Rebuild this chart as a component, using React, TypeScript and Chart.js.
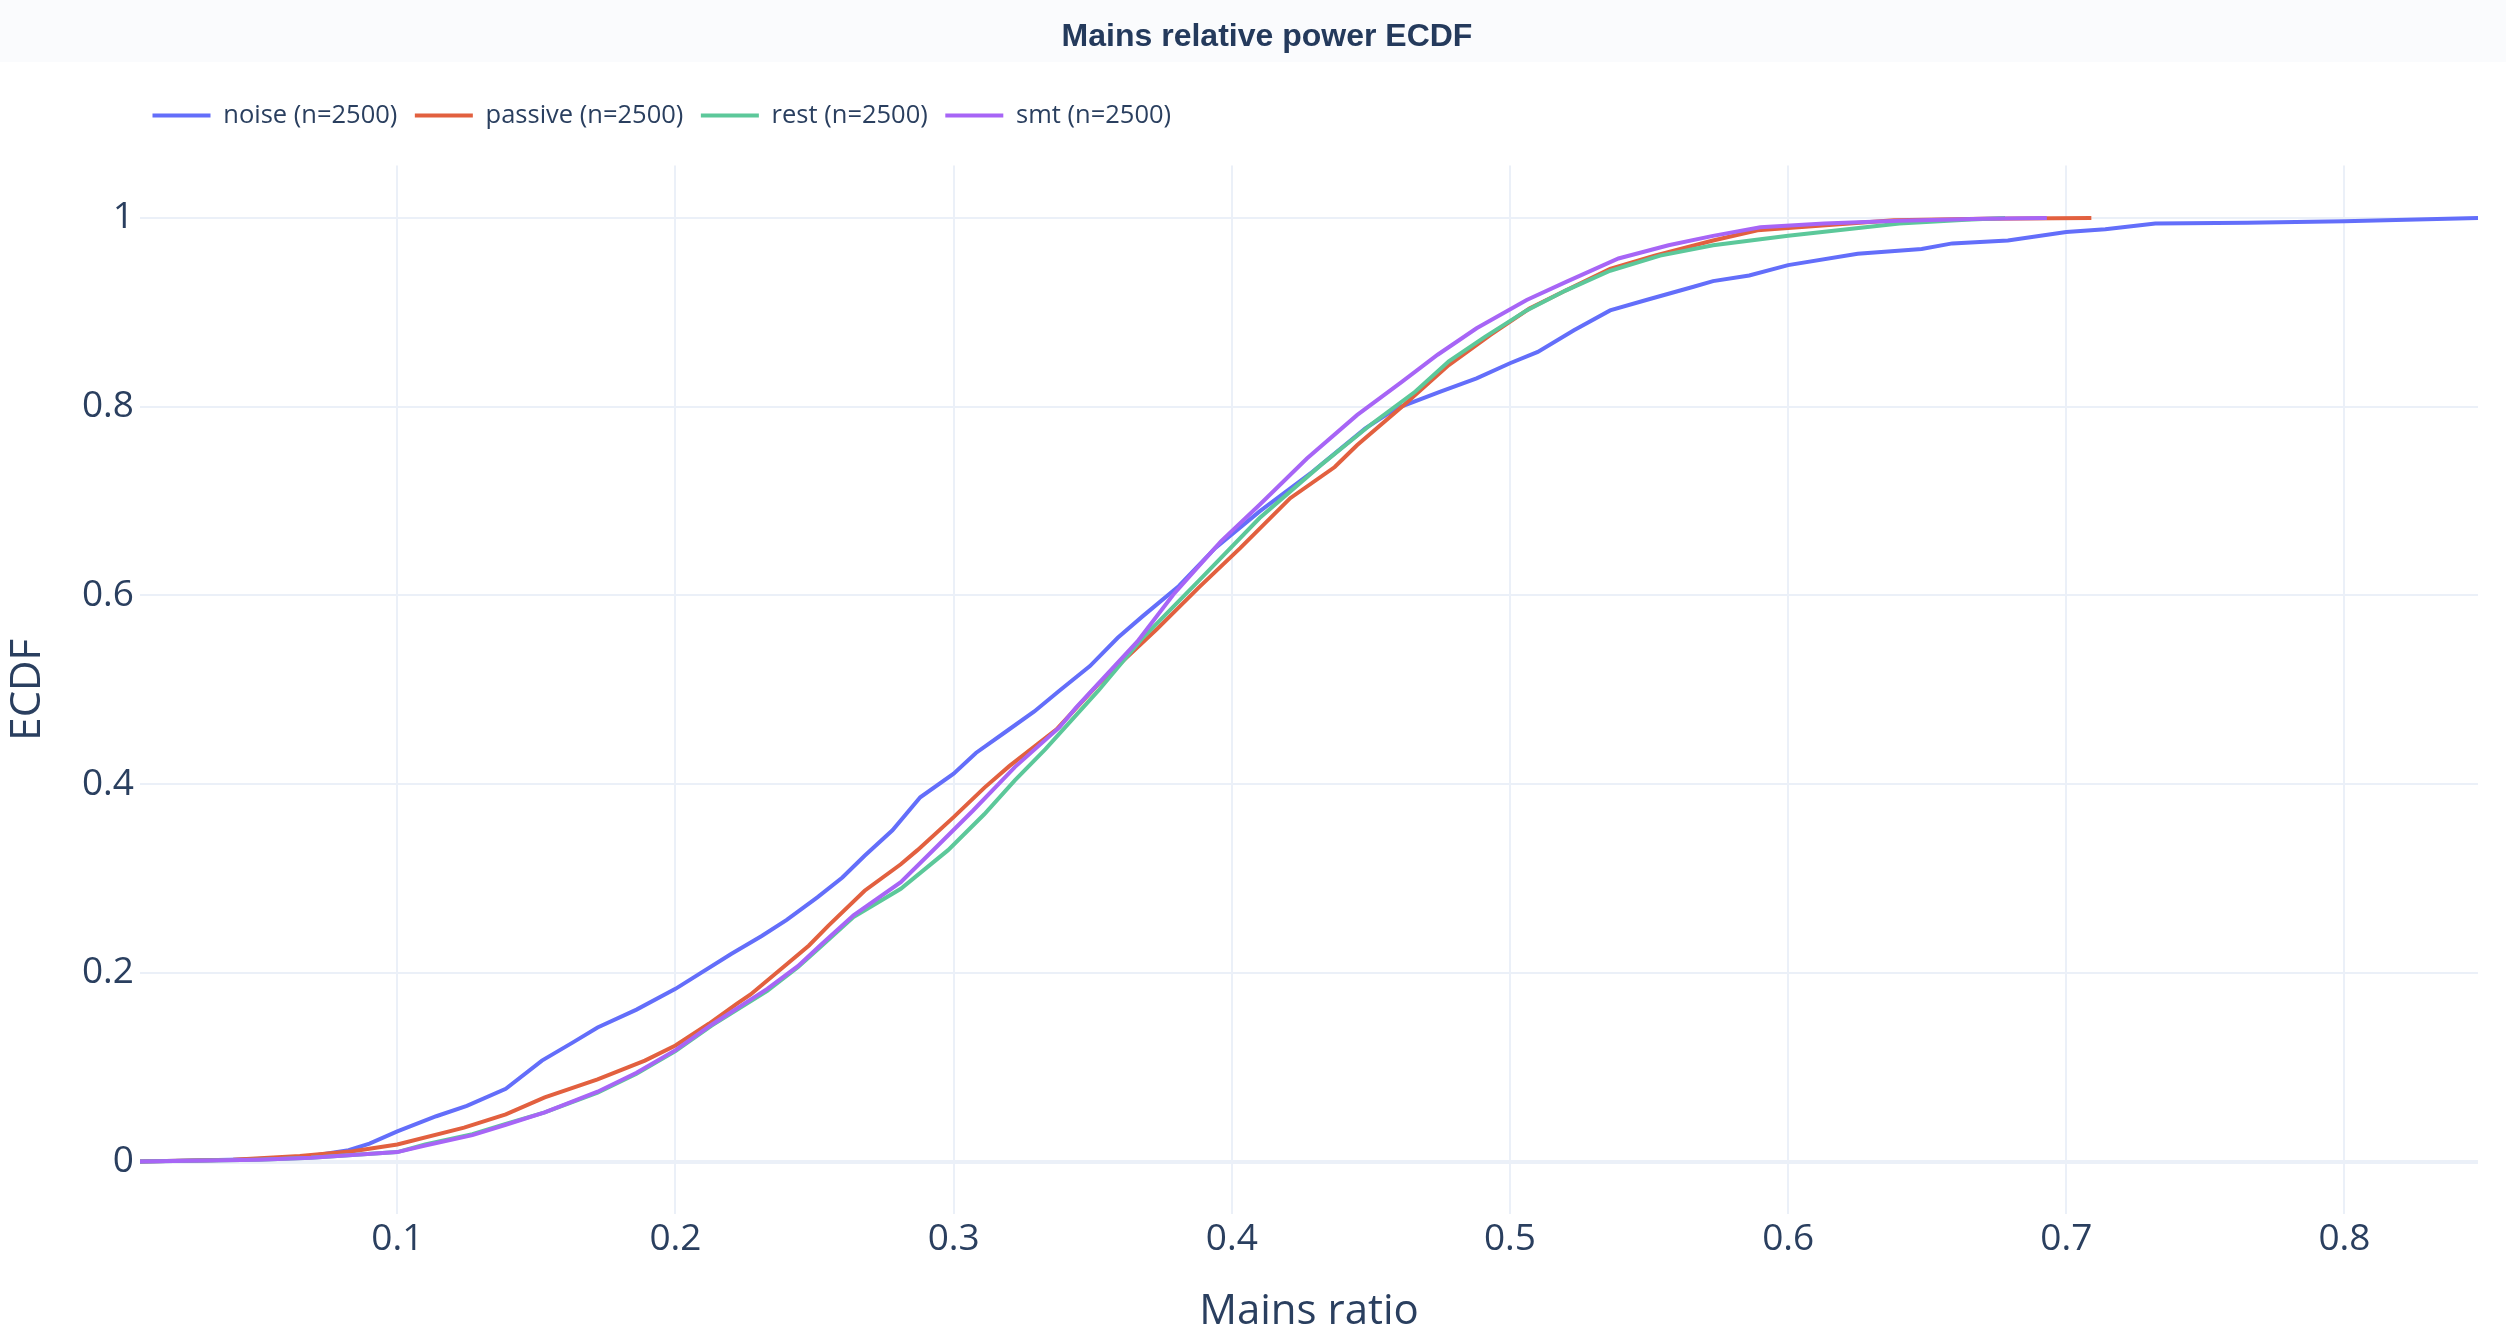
import React, { useEffect, useRef } from "react";
import { Chart, registerables } from "chart.js";

Chart.register(...registerables);

const TITLE = "Mains relative power ECDF";
const X_TITLE = "Mains ratio";
const Y_TITLE = "ECDF";
const SERIES_NAMES = ["noise (n=2500)", "passive (n=2500)", "rest (n=2500)", "smt (n=2500)"];
const SERIES_COLORS = ["#636efa", "#e2603f", "#5cc89a", "#a765f6"];

const X_MIN = 0.0075;
const X_MAX = 0.848;
const Y_MIN = -0.0556;
const Y_MAX = 1.0556;

const NOISE_X = [0.0075, 0.04, 0.065, 0.0825, 0.09, 0.1, 0.114, 0.125, 0.139, 0.152, 0.163, 0.172, 0.186, 0.2, 0.22, 0.231, 0.24, 0.251, 0.26, 0.268, 0.278, 0.288, 0.3, 0.308, 0.319, 0.329, 0.338, 0.349, 0.359, 0.368, 0.381, 0.394, 0.41, 0.429, 0.448, 0.459, 0.475, 0.488, 0.5, 0.51, 0.523, 0.536, 0.549, 0.566, 0.573, 0.586, 0.6, 0.625, 0.648, 0.659, 0.679, 0.7, 0.714, 0.732, 0.765, 0.8, 0.848];
const NOISE_Y = [0, 0.002, 0.004, 0.012, 0.019, 0.032, 0.048, 0.059, 0.077, 0.107, 0.126, 0.142, 0.161, 0.183, 0.22, 0.239, 0.256, 0.28, 0.301, 0.324, 0.351, 0.386, 0.411, 0.433, 0.456, 0.477, 0.499, 0.525, 0.555, 0.578, 0.61, 0.65, 0.689, 0.731, 0.777, 0.798, 0.816, 0.83, 0.846, 0.858, 0.881, 0.902, 0.913, 0.927, 0.933, 0.939, 0.95, 0.962, 0.967, 0.973, 0.976, 0.985, 0.988, 0.994, 0.995, 0.9965, 1];

const PASSIVE_X = [0.0075, 0.041, 0.065, 0.084, 0.1, 0.124, 0.139, 0.153, 0.172, 0.189, 0.2, 0.212, 0.222, 0.227, 0.24, 0.248, 0.255, 0.268, 0.281, 0.287, 0.3, 0.311, 0.32, 0.337, 0.352, 0.373, 0.388, 0.403, 0.421, 0.437, 0.445, 0.462, 0.478, 0.493, 0.507, 0.52, 0.536, 0.552, 0.573, 0.589, 0.638, 0.67, 0.709];
const PASSIVE_Y = [0, 0.002, 0.006, 0.011, 0.018, 0.036, 0.05, 0.068, 0.087, 0.107, 0.123, 0.146, 0.167, 0.177, 0.209, 0.229, 0.25, 0.287, 0.315, 0.33, 0.365, 0.396, 0.419, 0.458, 0.506, 0.564, 0.608, 0.65, 0.703, 0.736, 0.759, 0.802, 0.844, 0.876, 0.904, 0.923, 0.946, 0.96, 0.976, 0.987, 0.9975, 0.999, 1];

const REST_X = [0.0075, 0.05, 0.069, 0.1, 0.11, 0.127, 0.139, 0.153, 0.172, 0.186, 0.2, 0.213, 0.233, 0.244, 0.252, 0.264, 0.281, 0.298, 0.311, 0.322, 0.333, 0.352, 0.368, 0.388, 0.41, 0.432, 0.45, 0.466, 0.478, 0.491, 0.506, 0.52, 0.536, 0.554, 0.573, 0.6, 0.64, 0.664, 0.678];
const REST_Y = [0, 0.002, 0.004, 0.01, 0.018, 0.029, 0.04, 0.052, 0.073, 0.093, 0.117, 0.144, 0.181, 0.206, 0.227, 0.259, 0.289, 0.33, 0.368, 0.404, 0.437, 0.499, 0.555, 0.615, 0.682, 0.738, 0.781, 0.816, 0.848, 0.874, 0.902, 0.923, 0.944, 0.96, 0.971, 0.981, 0.994, 0.998, 1];

const SMT_X = [0.0075, 0.05, 0.069, 0.1, 0.11, 0.127, 0.139, 0.153, 0.172, 0.186, 0.2, 0.213, 0.233, 0.244, 0.252, 0.264, 0.281, 0.292, 0.307, 0.322, 0.338, 0.344, 0.366, 0.379, 0.396, 0.41, 0.427, 0.445, 0.461, 0.474, 0.488, 0.506, 0.52, 0.539, 0.557, 0.573, 0.59, 0.613, 0.64, 0.67, 0.693];
const SMT_Y = [0, 0.002, 0.004, 0.01, 0.017, 0.028, 0.039, 0.052, 0.074, 0.094, 0.118, 0.145, 0.183, 0.207, 0.229, 0.261, 0.296, 0.328, 0.372, 0.418, 0.46, 0.481, 0.551, 0.601, 0.657, 0.696, 0.745, 0.791, 0.826, 0.855, 0.883, 0.913, 0.932, 0.957, 0.971, 0.981, 0.99, 0.994, 0.997, 0.999, 1];

const SERIES_X = [NOISE_X, PASSIVE_X, REST_X, SMT_X];
const SERIES_Y = [NOISE_Y, PASSIVE_Y, REST_Y, SMT_Y];

const FONT = "'Open Sans', 'Noto Sans', sans-serif";
const TITLE_FONT = "'Liberation Sans', Arial, sans-serif";
const TEXT = "#2a3f5f";
const GRID = "#ebf0f8";

const fmt = (v: number) => String(parseFloat(Number(v).toFixed(3)));

export default function App() {
  const ref = useRef<HTMLCanvasElement | null>(null);

  useEffect(() => {
    if (!ref.current) return;
    const bgPlugin = {
      id: "bgPlugin",
      beforeDraw(chart: any) {
        const c = chart.ctx;
        c.save();
        c.fillStyle = "#ffffff";
        c.fillRect(0, 0, chart.width, chart.height);
        c.fillStyle = "#fafbfd";
        c.fillRect(0, 0, chart.width, 62);
        c.restore();
      },
    };
    const shiftPlugin = {
      id: "shiftPlugin",
      afterLayout(chart: any) {
        if (chart.legend) chart.legend.left = 135;
        if (chart.titleBlock) {
          chart.titleBlock.left += 14;
          chart.titleBlock.right += 14;
        }
      },
    };
    const datasets = SERIES_NAMES.map((name, i) => ({
      label: name,
      data: SERIES_X[i].map((x, j) => ({ x, y: SERIES_Y[i][j] })),
      borderColor: SERIES_COLORS[i],
      backgroundColor: SERIES_COLORS[i],
      borderWidth: 4,
      pointRadius: 0,
      showLine: true,
      tension: 0,
      order: SERIES_NAMES.length - i,
    }));
    const chart = new Chart(ref.current, {
      type: "scatter",
      data: { datasets },
      plugins: [bgPlugin, shiftPlugin],
      options: {
        animation: false,
        responsive: false,
        devicePixelRatio: 1,
        layout: { padding: { left: 0, right: 0, top: 0, bottom: 0 } },
        plugins: {
          title: {
            display: true,
            text: TITLE,
            color: "#243a5c",
            font: { family: TITLE_FONT, size: 32, weight: "bold" },
            padding: { top: 17.8, bottom: 29 },
          },
          subtitle: {
            display: true,
            text: " ",
            weight: 500,
            font: { family: FONT, size: 10 },
            padding: { top: 15.25, bottom: 0 },
          } as any,
          legend: {
            position: "top",
            align: "start",
            labels: {
              usePointStyle: true,
              pointStyle: "line",
              pointStyleWidth: 58,
              color: TEXT,
              font: { family: FONT, size: 25.5 },
              padding: 17.5,
              sort: (a: any, b: any) => a.datasetIndex - b.datasetIndex,
            },
          },
          tooltip: { enabled: false },
        },
        scales: {
          x: {
            type: "linear",
            min: X_MIN,
            max: X_MAX,
            ticks: {
              stepSize: 0.1,
              includeBounds: false,
              color: TEXT,
              font: { family: FONT, size: 37 },
              padding: 3,
              maxRotation: 0,
              callback: (v: any) => fmt(v),
            },
            grid: { color: GRID, lineWidth: 2, drawTicks: false },
            border: { display: false },
            title: {
              display: true,
              text: X_TITLE,
              color: TEXT,
              font: { family: FONT, size: 42 },
              padding: { top: 0, bottom: 1 },
            },
            afterFit: (s: any) => {
              s.height = 124;
            },
          },
          y: {
            type: "linear",
            min: Y_MIN,
            max: Y_MAX,
            ticks: {
              stepSize: 0.2,
              includeBounds: false,
              color: TEXT,
              font: { family: FONT, size: 37 },
              padding: 6,
              callback: (v: any) => fmt(v),
            },
            grid: {
              color: GRID,
              lineWidth: (c: any) => (c.tick && c.tick.value === 0 ? 4 : 2),
              drawTicks: false,
            },
            border: { display: false },
            title: {
              display: true,
              text: Y_TITLE,
              color: TEXT,
              font: { family: FONT, size: 42 },
              padding: { top: 3, bottom: 0 },
            },
            afterFit: (s: any) => {
              s.width = 140;
            },
          },
          y2: {
            type: "linear",
            position: "right",
            display: true,
            ticks: { display: false },
            grid: { display: false },
            border: { display: false },
            afterFit: (s: any) => {
              s.width = 28;
            },
          },
        },
      } as any,
    });
    return () => chart.destroy();
  }, []);

  return (
    <div style={{ position: "absolute", left: 0, top: 0, width: 2506, height: 1338, background: "#fff" }}>
      <canvas ref={ref} width={2506} height={1338} style={{ width: 2506, height: 1338, display: "block" }} />
    </div>
  );
}
